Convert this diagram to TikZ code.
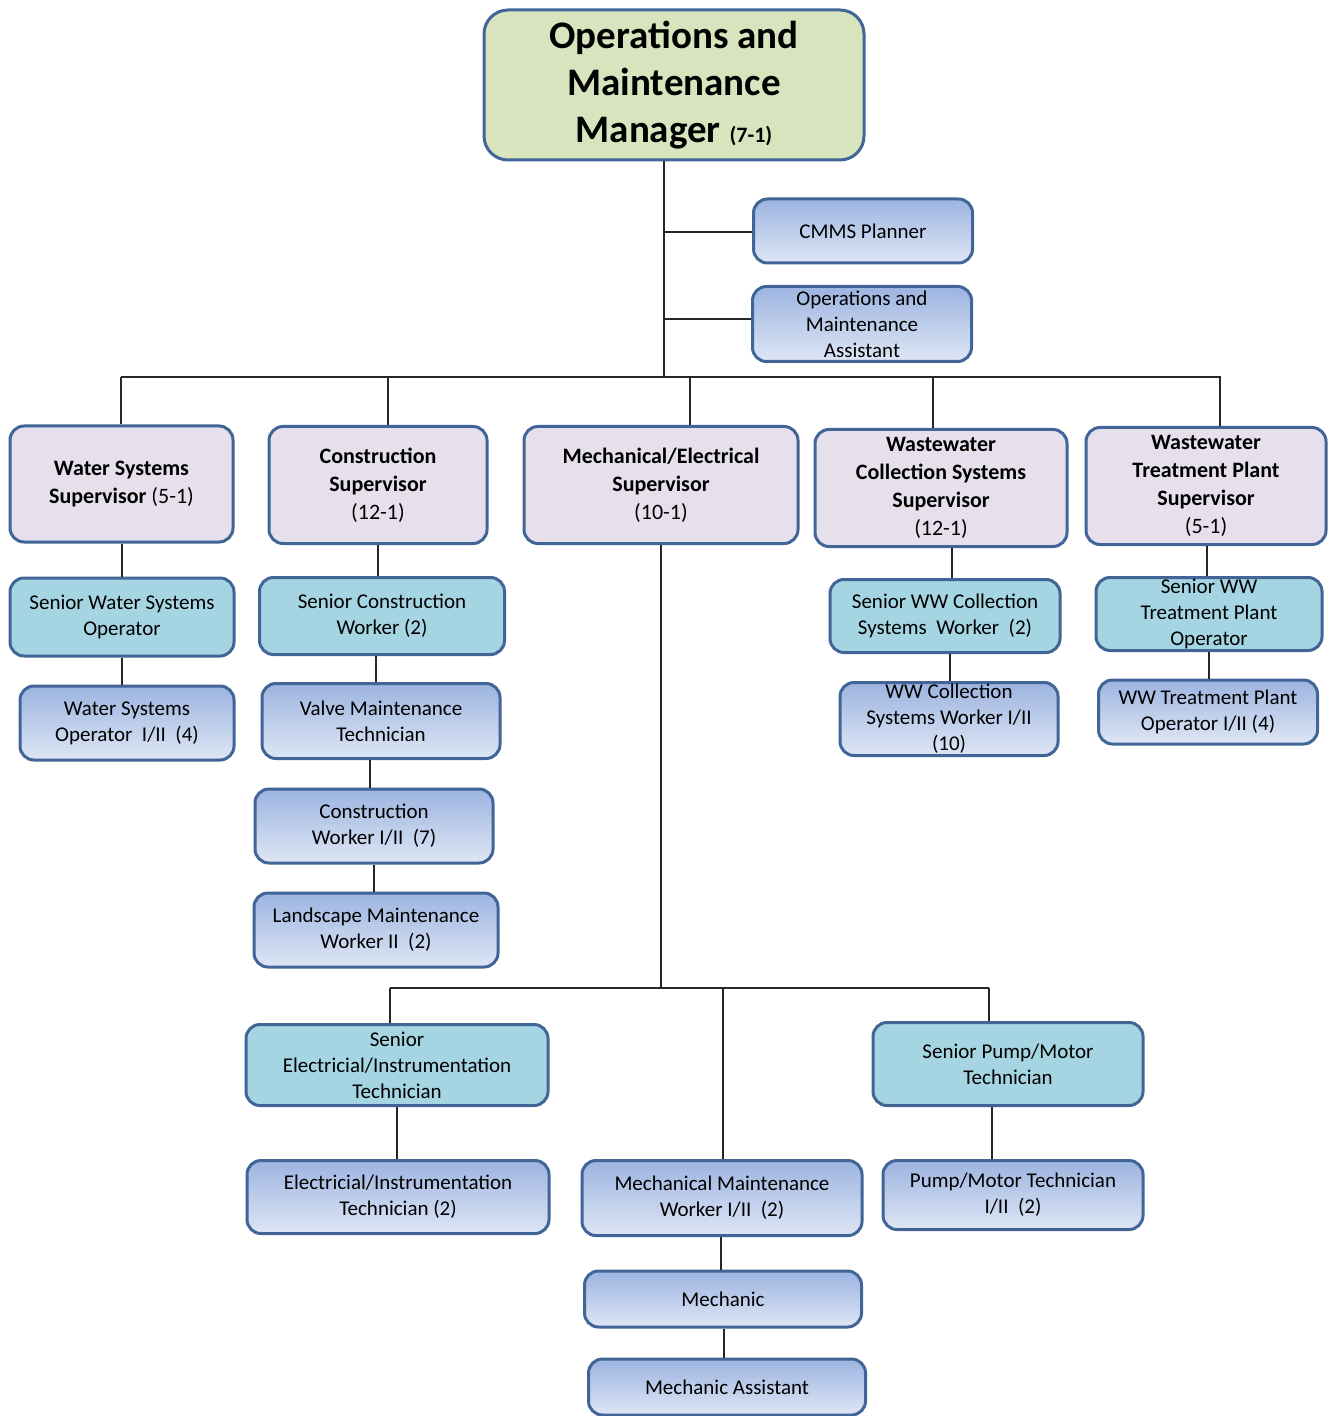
\documentclass[tikz,border=0pt]{standalone}
\usepackage{fontspec}
\setmainfont{Carlito}
\definecolor{boxline}{RGB}{65,101,150}
\definecolor{mgrfill}{RGB}{215,228,189}
\definecolor{supfill}{RGB}{229,224,236}
\definecolor{seniorfill}{RGB}{165,213,226}
\definecolor{stafftop}{RGB}{156,180,224}
\definecolor{staffbot}{RGB}{222,230,245}
\begin{document}
\begin{tikzpicture}[x=0.5pt,y=-0.5pt,
	box/.style={draw=boxline,line width=1.5pt,rounded corners=7pt,align=center,inner sep=0pt,font=\fontsize{10.5}{13}\selectfont},
	sup/.style={box,fill=supfill,font=\fontsize{11}{14}\selectfont},
	senior/.style={box,fill=seniorfill},
	staff/.style={box,top color=stafftop,bottom color=staffbot},
	link/.style={line width=0.7pt,black!85}]

		\useasboundingbox (0,0) rectangle (1328,1416);

		% Manager
		\node[box,fill=mgrfill,rounded corners=12pt,minimum width=190pt,minimum height=75pt,font=\fontsize{19.5}{23.5}\selectfont\bfseries] (mgr) at (674,85)
			{Operations and\\Maintenance\\Manager {\fontsize{11}{14}\selectfont (7-1)}};

		% Staff of the manager
		\node[staff,minimum width=109.5pt,minimum height=32pt] (cmms) at (863,231) {CMMS Planner};
		\node[staff,minimum width=109.5pt,minimum height=37.5pt] (oma) at (862,324) {Operations and\\Maintenance\\Assistant};

		%---------------------
		% supervisors
		%---------------------
		\node[sup,minimum width=111.5pt,minimum height=58pt] (ws) at (121.5,484) {\textbf{Water Systems}\\\textbf{Supervisor} (5-1)};
		\node[sup,minimum width=109pt,minimum height=58.5pt] (cs) at (378,485) {\textbf{Construction}\\\textbf{Supervisor}\\(12-1)};
		\node[sup,minimum width=137pt,minimum height=58.5pt] (me) at (661,485) {\textbf{Mechanical/Electrical}\\\textbf{Supervisor}\\(10-1)};
		\node[sup,minimum width=126pt,minimum height=58.5pt] (wcs) at (941,488) {\textbf{Wastewater}\\\textbf{Collection Systems}\\\textbf{Supervisor}\\(12-1)};
		\node[sup,minimum width=120pt,minimum height=58.5pt] (wtp) at (1206,486) {\textbf{Wastewater}\\\textbf{Treatment Plant}\\\textbf{Supervisor}\\(5-1)};

		% Water systems
		\node[senior,minimum width=112pt,minimum height=39pt] (sws) at (122,617) {Senior Water Systems\\Operator};
		\node[staff,minimum width=107pt,minimum height=37pt] (wso) at (127,723) {Water Systems\\Operator~ I/II~ (4)};

		% Construction
		\node[senior,minimum width=122.5pt,minimum height=38.5pt] (scw) at (382,616) {Senior Construction\\Worker (2)};
		\node[staff,minimum width=119pt,minimum height=37.5pt] (vmt) at (381,721) {Valve Maintenance\\Technician};
		\node[staff,minimum width=119pt,minimum height=37pt] (cw) at (374,826) {Construction\\Worker I/II~ (7)};
		\node[staff,minimum width=122pt,minimum height=37pt] (lmw) at (376,930) {Landscape Maintenance\\Worker II~ (2)};

		% Mechanical/Electrical
		\node[senior,minimum width=151pt,minimum height=40.5pt] (seit) at (397,1065) {Senior\\Electricial/Instrumentation\\Technician};
		\node[staff,minimum width=151pt,minimum height=36.5pt] (eit) at (398,1197) {Electricial/Instrumentation\\Technician (2)};
		\node[staff,minimum width=140pt,minimum height=37.5pt] (mmw) at (722,1198) {Mechanical Maintenance\\Worker I/II~ (2)};
		\node[staff,minimum width=138.5pt,minimum height=28pt] (mech) at (723,1299) {Mechanic};
		\node[staff,minimum width=138.5pt,minimum height=28pt] (ma) at (727,1387) {Mechanic Assistant};
		\node[senior,minimum width=135pt,minimum height=41.5pt] (spmt) at (1008,1064) {Senior Pump/Motor\\Technician};
		\node[staff,minimum width=130pt,minimum height=34.5pt] (pmt) at (1013,1195) {Pump/Motor Technician\\I/II~ (2)};

		% WW collection
		\node[senior,minimum width=115pt,minimum height=36.5pt] (swcw) at (945,616) {Senior WW Collection\\Systems~ Worker~ (2)};
		\node[staff,minimum width=109pt,minimum height=36.5pt] (wcw) at (949,719) {WW Collection\\Systems Worker I/II\\(10)};

		% WW treatment
		\node[senior,minimum width=113pt,minimum height=36.5pt] (swtp) at (1209,614) {Senior WW\\Treatment Plant\\Operator};
		\node[staff,minimum width=109.5pt,minimum height=32pt] (wtpo) at (1208,712) {WW Treatment Plant\\Operator I/II (4)};

		%---------------------
		% links
		%---------------------
		\coordinate (bus) at (664,377);
		\coordinate (cmmsj) at (664,232);
		\coordinate (omaj) at (664,319);
		\draw[link] (mgr.south -| bus) -- (bus);
		\draw[link] (cmmsj) -- (cmmsj -| cmms.west);
		\draw[link] (omaj) -- (omaj -| oma.west);
		\draw[link] (121,377) -- (1221,377);
		\foreach \n/\x in {ws/121,cs/388,me/690,wcs/933,wtp/1220}
			\draw[link] (\x,377) -- (\n.north -| \x,0);

		% chains
		\draw[link] (ws.south -| 122,0) -- (sws.north -| 122,0);
		\draw[link] (sws.south) -- (sws.south |- wso.north);
		\draw[link] (cs.south) -- (cs.south |- scw.north);
		\draw[link] (scw.south -| 376,0) -- (vmt.north -| 376,0);
		\draw[link] (vmt.south -| 370,0) -- (cw.north -| 370,0);
		\draw[link] (cw.south) -- (cw.south |- lmw.north);
		\draw[link] (wcs.south -| 952,0) -- (swcw.north -| 952,0);
		\draw[link] (swcw.south -| 950,0) -- (wcw.north -| 950,0);
		\draw[link] (wtp.south -| 1207,0) -- (swtp.north -| 1207,0);
		\draw[link] (swtp.south) -- (swtp.south |- wtpo.north);

		% mechanical/electrical branch
		\coordinate (mebus) at (661,988);
		\draw[link] (me.south) -- (me.south |- mebus);
		\draw[link] (390,988) -- (989,988);
		\draw[link] (390,988) -- (seit.north -| 390,0);
		\draw[link] (723,988) -- (mmw.north -| 723,0);
		\draw[link] (989,988) -- (spmt.north -| 989,0);
		\draw[link] (seit.south) -- (seit.south |- eit.north);
		\draw[link] (spmt.south -| 992,0) -- (pmt.north -| 992,0);
		\draw[link] (mmw.south -| 721,0) -- (mech.north -| 721,0);
		\draw[link] (mech.south -| 724,0) -- (ma.north -| 724,0);

\end{tikzpicture}
\end{document}
